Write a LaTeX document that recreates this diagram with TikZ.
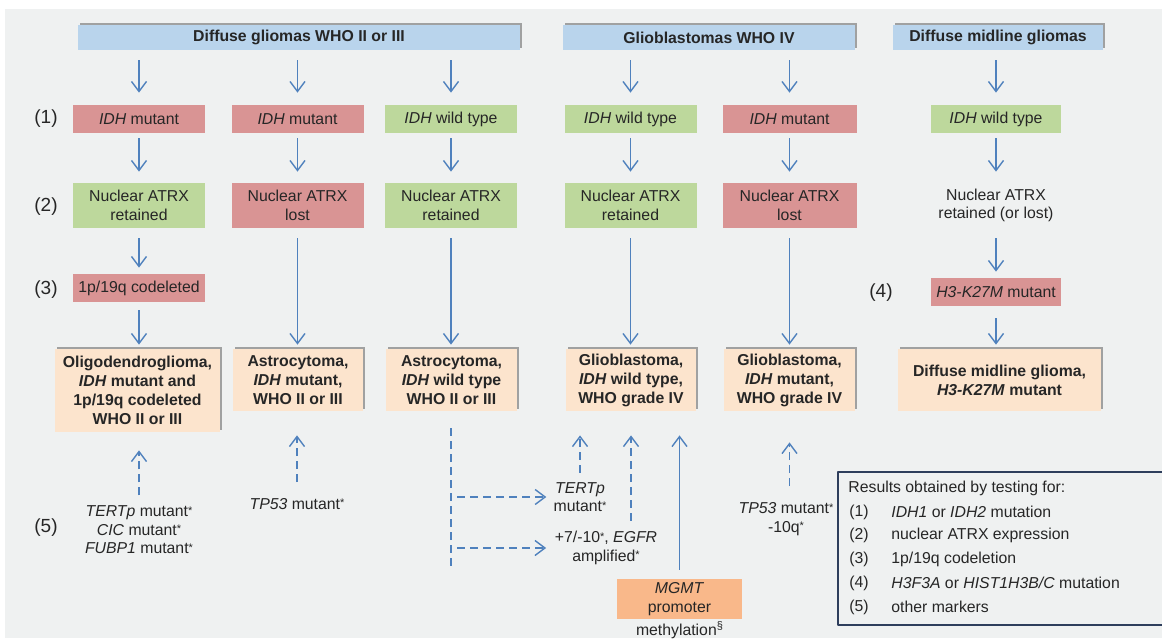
\documentclass[tikz,border=0pt]{standalone}
\usepackage{fontspec}
\setmainfont{Liberation Sans}
\usetikzlibrary{arrows.meta,shadows,calc}
\definecolor{bgGray}{HTML}{EFF1F1}
\definecolor{headBlue}{HTML}{B9D4EC}
\definecolor{mutRed}{HTML}{D99494}
\definecolor{wtGreen}{HTML}{BDD89C}
\definecolor{finPeach}{HTML}{FCE4CD}
\definecolor{mgmtOrange}{HTML}{F9B88A}
\definecolor{arrBlue}{HTML}{4F81BD}
\definecolor{txtGray}{HTML}{262626}
\definecolor{legLine}{HTML}{2E3E5C}
\newcommand{\smstar}{\raisebox{0.3ex}{\fontsize{5.5}{6}\selectfont *}}

\begin{document}
\begin{tikzpicture}[x=0.5pt, y=-0.5pt, line join=round,
  font=\fontsize{7.9}{9.2}\selectfont, text=txtGray,
  shade/.style={drop shadow={shadow xshift=1.1pt, shadow yshift=1.2pt, opacity=0.45, fill=black!75}},
  head/.style={shade, fill=headBlue, font=\fontsize{7.9}{9.2}\selectfont\bfseries, minimum height=12.5pt, inner sep=0pt},
  mut/.style={fill=mutRed, minimum width=66pt, inner sep=0pt, align=center},
  wt/.style={fill=wtGreen, minimum width=66pt, inner sep=0pt, align=center},
  row1/.style={minimum height=14pt},
  row2/.style={minimum height=22.5pt},
  final/.style={shade, fill=finPeach, font=\fontsize{7.9}{9.5}\selectfont\bfseries, align=center, inner sep=0pt, minimum height=31pt},
  marker/.style={align=center, inner sep=0pt, font=\fontsize{7.9}{9.3}\selectfont},
  num/.style={font=\fontsize{9.5}{11}\selectfont},
  arr/.style={draw=arrBlue, line width=0.7pt, -{Straight Barb[length=5pt,width=7.5pt]}},
  darr/.style={arr, dash pattern=on 4pt off 2.5pt},
  dline/.style={draw=arrBlue, line width=0.7pt, dash pattern=on 4pt off 2.5pt}]
\useasboundingbox (0,0) rectangle (1162,638);
\fill[bgGray] (5,9) rectangle (1162,638);

\node[head, minimum width=221pt] (h1) at (299,37.5) {Diffuse gliomas WHO II or III};
\node[head, minimum width=146pt] (h2) at (709,37.5) {Glioblastomas WHO IV};
\node[head, minimum width=105pt] (h3) at (998,37.5) {Diffuse midline gliomas};

\node[num] (l1) at (46,119) {(1)};
\node[num] (l2) at (46,207) {(2)};
\node[num] (l3) at (46,290) {(3)};
\node[num] (l4) at (881,293) {(4)};
\node[num] (l5) at (46,528) {(5)};

\node[mut,row1] (i1) at (139,119) {\textit{IDH} mutant};
\node[mut,row1] (i2) at (297.5,119) {\textit{IDH} mutant};
\node[wt,row1] (i3) at (451,119) {\textit{IDH} wild type};
\node[wt,row1] (i4) at (630.5,119) {\textit{IDH} wild type};
\node[mut,row1,minimum width=67pt] (i5) at (789.5,119) {\textit{IDH} mutant};
\node[wt,row1,minimum width=65pt] (i6) at (996,119) {\textit{IDH} wild type};

\node[wt,row2] (n1) at (139,205.5) {Nuclear ATRX\\retained};
\node[mut,row2] (n2) at (297.5,205.5) {Nuclear ATRX\\lost};
\node[wt,row2] (n3) at (451,205.5) {Nuclear ATRX\\retained};
\node[wt,row2] (n4) at (630.5,205.5) {Nuclear ATRX\\retained};
\node[mut,row2,minimum width=67pt] (n5) at (789.5,205.5) {Nuclear ATRX\\lost};
\node[row2, align=center, inner sep=0pt] (n6) at (996,205.5) {Nuclear ATRX\\retained (or lost)};

\node[mut,row1] (c1) at (139,288) {1p/19q codeleted};
\node[mut,row1,minimum width=65pt] (k6) at (996,292) {\textit{H3-K27M} mutant};

\node[final, minimum width=82.5pt, minimum height=41.5pt] (f1) at (137.5,390.5) {Oligodendroglioma,\\\textit{IDH} mutant and\\1p/19q codeleted\\WHO II or III};
\node[final, minimum width=65pt] (f2) at (298,380) {Astrocytoma,\\\textit{IDH} mutant,\\WHO II or III};
\node[final, minimum width=65.5pt] (f3) at (451.5,380) {Astrocytoma,\\\textit{IDH} wild type\\WHO II or III};
\node[final, minimum width=65pt] (f4) at (631,380) {Glioblastoma,\\\textit{IDH} wild type,\\WHO grade IV};
\node[final, minimum width=65.5pt] (f5) at (789.5,380) {Glioblastoma,\\\textit{IDH} mutant,\\WHO grade IV};
\node[final, minimum width=101.5pt] (f6) at (999.5,380) {Diffuse midline glioma,\\\textit{H3-K27M} mutant};

\node[marker] (m1) at (139,530) {\textit{TERTp} mutant\smstar\\\textit{CIC} mutant\smstar\\\textit{FUBP1} mutant\smstar};
\node[marker] (m2) at (297,504) {\textit{TP53} mutant\smstar};
\coordinate (d3) at (451,570);
\node[marker] (t4) at (580,497) {\textit{TERTp}\\mutant\smstar};
\node[marker] (e4) at (606,548) {+7/-10\smstar, \textit{EGFR}\\amplified\smstar};
\node[fill=mgmtOrange, minimum width=62.5pt, minimum height=20pt, inner sep=0pt, align=center] (g4) at (679.5,599) {\textit{MGMT}\\promoter};
\node[marker] (g4m) at (680,630) {methylation\textsuperscript{§}};
\node[marker] (p5) at (786,519) {\textit{TP53} mutant\smstar\\-10q\smstar};

\draw[arr, shorten <=5pt, shorten >=6pt] (h1.south -| i1) -- (i1);
\draw[arr, shorten <=5pt, shorten >=6pt] (h1.south -| i2) -- (i2);
\draw[arr, shorten <=5pt, shorten >=6pt] (h1.south -| i3) -- (i3);
\draw[arr, shorten <=5pt, shorten >=6pt] (h2.south -| i4) -- (i4);
\draw[arr, shorten <=5pt, shorten >=6pt] (h2.south -| i5) -- (i5);
\draw[arr, shorten <=5pt, shorten >=6pt] (h3.south -| i6) -- (i6);

\draw[arr, shorten <=2.5pt, shorten >=5.5pt] (i1) -- (n1);
\draw[arr, shorten <=2.5pt, shorten >=5.5pt] (i2) -- (n2);
\draw[arr, shorten <=2.5pt, shorten >=5.5pt] (i3) -- (n3);
\draw[arr, shorten <=2.5pt, shorten >=5.5pt] (i4) -- (n4);
\draw[arr, shorten <=2.5pt, shorten >=5.5pt] (i5) -- (n5);
\draw[arr, shorten <=2.5pt, shorten >=5.5pt] (i6) -- (n6);

\draw[arr, shorten <=5pt, shorten >=3pt] (n1) -- (c1);
\draw[arr, shorten <=4pt, shorten >=2pt] (c1) -- (c1 |- f1.north);
\draw[arr, shorten <=5pt, shorten >=2pt] (n2) -- (n2 |- f2.north);
\draw[arr, shorten <=5pt, shorten >=2pt] (n3) -- (n3 |- f3.north);
\draw[arr, shorten <=5pt, shorten >=2pt] (n4) -- (n4 |- f4.north);
\draw[arr, shorten <=5pt, shorten >=2pt] (n5) -- (n5 |- f5.north);
\draw[arr, shorten <=5pt, shorten >=3pt] (n6) -- (k6);
\draw[arr, shorten <=6pt, shorten >=2pt] (k6) -- (k6 |- f6.north);

\draw[darr, shorten <=5pt, shorten >=9pt] (m1) -- (m1 |- f1.south);
\draw[darr, shorten <=8pt, shorten >=12pt] (m2) -- (m2 |- f2.south);
\draw[dline, shorten <=8.5pt] (f3.south -| d3) -- (d3);
\draw[darr, shorten <=3pt, shorten >=3.5pt] (d3 |- t4) -- (t4);
\draw[darr, shorten <=3pt, shorten >=4.2pt] (d3 |- e4) -- (e4);
\draw[darr, shorten <=4.5pt, shorten >=12pt] (t4) -- (t4 |- f4.south);
\draw[darr, shorten <=5pt, shorten >=12pt] (e4.north -| f4) -- (f4);
\draw[arr, shorten <=4.5pt, shorten >=12pt] (g4) -- (g4 |- f4.south);
\draw[darr, shorten <=8pt, shorten >=15.5pt] (p5.north -| f5) -- (f5);

\draw[legLine, line width=0.8pt] (1170,472) -| (838,625) -- (1170,625);
\node[anchor=west, inner sep=0pt] (lt) at (848,488) {Results obtained by testing for:};
\node[anchor=west, inner sep=0pt] (k1) at (849,512) {(1)};
\node[anchor=west, inner sep=0pt] (k2) at (849,535.5) {(2)};
\node[anchor=west, inner sep=0pt] (k3) at (849,559) {(3)};
\node[anchor=west, inner sep=0pt] (k4) at (849,583) {(4)};
\node[anchor=west, inner sep=0pt] (k5) at (849,607) {(5)};
\node[anchor=west, inner sep=0pt] (r1) at (891,512) {\textit{IDH1} or \textit{IDH2} mutation};
\node[anchor=west, inner sep=0pt] (r2) at (891,535.5) {nuclear ATRX expression};
\node[anchor=west, inner sep=0pt] (r3) at (891,559) {1p/19q codeletion};
\node[anchor=west, inner sep=0pt] (r4) at (891,583) {\textit{H3F3A} or \textit{HIST1H3B/C} mutation};
\node[anchor=west, inner sep=0pt] (r5) at (891,607) {other markers};
\end{tikzpicture}
\end{document}
